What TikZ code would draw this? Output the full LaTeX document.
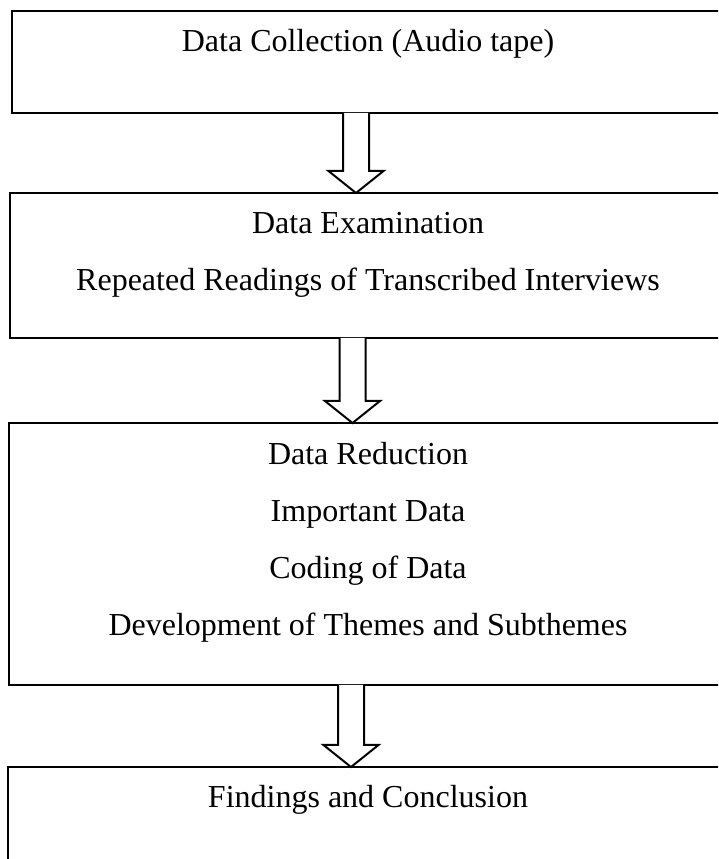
\documentclass[tikz,border=0pt]{standalone}
\usepackage{fontspec}
\setmainfont{Liberation Serif}
\usetikzlibrary{calc}

% hollow block arrow from the bottom of one box to the top of the next
\newcommand{\hollowarrow}[3]{%
  \draw[arrowline] let \p1=(#1.south), \p2=(#2.north) in
    (#3-13,\y1) -- (#3-13,\y2+22) -- (#3-27.5,\y2+22) -- (#3,\y2)
    -- (#3+27.5,\y2+22) -- (#3+13,\y2+22) -- (#3+13,\y1);}

\begin{document}
\begin{tikzpicture}[
    x=1pt,
    y=1pt,
    box/.style={
        rectangle,
        draw,
        line width=2.6pt,
        inner sep=0pt,
        outer sep=0pt
    },
    txt/.style={
        font=\fontsize{32}{38}\selectfont,
        inner sep=0pt,
        anchor=base
    },
    arrowline/.style={
        draw, line width=2pt, fill=white
    }
]

\clip (0,0) rectangle (718,859);
\fill[white] (0,0) rectangle (718,859);

% Boxes
\node [box, minimum width=712pt, minimum height=102pt] (collect) at (368,797) {};
\node [box, minimum width=716pt, minimum height=145pt] (exam) at (368,593.5) {};
\node [box, minimum width=718pt, minimum height=262pt] (reduce) at (368,305) {};
\node [box, minimum width=720pt, minimum height=140pt] (findings) at (368,22) {};

% Texts
\node [txt] (tcollect) at ([yshift=-41pt]collect.north) {Data Collection (Audio tape)};

\node [txt] (texam) at ([yshift=-41pt]exam.north) {Data Examination};
\node [txt] (treading) at ([yshift=-57pt]texam.base) {Repeated Readings of Transcribed Interviews};

\node [txt] (treduce) at ([yshift=-42pt]reduce.north) {Data Reduction};
\node [txt] (timportant) at ([yshift=-57pt]treduce.base) {Important Data};
\node [txt] (tcoding) at ([yshift=-57pt]timportant.base) {Coding of Data};
\node [txt] (tthemes) at ([yshift=-57pt]tcoding.base) {Development of Themes and Subthemes};

\node [txt] (tfindings) at ([yshift=-41pt]findings.north) {Findings and Conclusion};

% Arrows
\hollowarrow{collect}{exam}{356}
\hollowarrow{exam}{reduce}{352.5}
\hollowarrow{reduce}{findings}{351}

\end{tikzpicture}
\end{document}
